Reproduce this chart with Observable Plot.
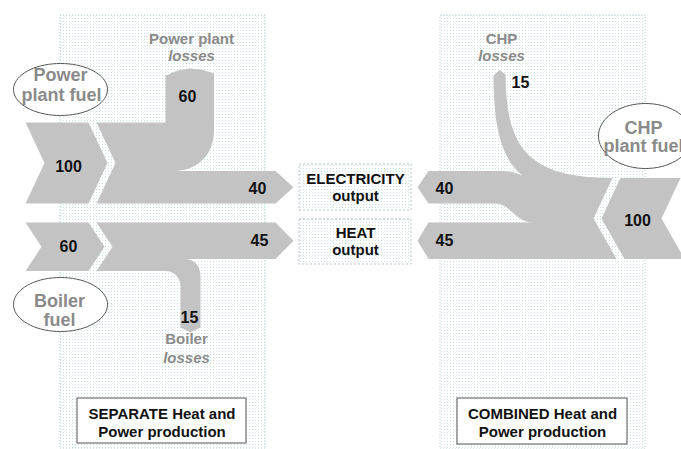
<!DOCTYPE html>
<html>
<head>
<meta charset="utf-8">
<script src="https://cdn.jsdelivr.net/npm/d3@7"></script>
<script src="https://cdn.jsdelivr.net/npm/@observablehq/plot@0.6"></script>
<style>body{margin:0;background:#fff}</style>
</head>
<body>
<div id="chart"></div>
<script>
// ---------- DATA ----------
const fuelLabels   = [["Power", "plant fuel"], ["Boiler", "fuel"], ["CHP", "plant fuel"]];
const lossLabels   = [["Power plant", "losses"], ["Boiler", "losses"], ["CHP", "losses"]];
const outputLabels = [["ELECTRICITY", "output"], ["HEAT", "output"]];
const panelTitles  = [["SEPARATE Heat and", "Power production"], ["COMBINED Heat and", "Power production"]];
const sepFuel   = [100, 60];   // power plant fuel, boiler fuel
const sepOutput = [40, 45];    // electricity, heat
const sepLoss   = [60, 15];    // power plant losses, boiler losses
const chpFuel   = [100];
const chpOutput = [40, 45];    // electricity, heat
const chpLoss   = [15];

// ---------- LAYOUT (pixel geometry, widths from values) ----------
const k = 0.81;               // px per unit of energy
const FONT = "Liberation Sans, Arial, sans-serif";
const shapeFill = "#c3c3c3";

function bez(a, b, c, d, n = 18) {
  const pts = [];
  for (let i = 1; i <= n; i++) {
    const t = i / n, u = 1 - t;
    pts.push([
      u*u*u*a[0] + 3*u*u*t*b[0] + 3*u*t*t*c[0] + t*t*t*d[0],
      u*u*u*a[1] + 3*u*u*t*b[1] + 3*u*t*t*c[1] + t*t*t*d[1]
    ]);
  }
  return pts;
}
function ellipse(cx, cy, rx, ry, n = 72) {
  return d3.range(n).map(i => [cx + rx * Math.cos(2*Math.PI*i/n), cy + ry * Math.sin(2*Math.PI*i/n)]);
}

// separate: power plant row
const yEB = 203;
const yFT = yEB - sepFuel[0] * k;
const yET = yEB - sepOutput[0] * k;
const yM1 = (yFT + yEB) / 2;
const pL = 165, pR = pL + sepLoss[0] * k, pTop = 75;
const chevA = [[25, yFT], [88, yFT], [107, yM1], [88, yEB], [25, yEB], [44, yM1]];
const bodyB = [
  [96, yFT], [pL, yFT], [pL, pTop],
  [pL + 12, pTop - 5], [pL + 24, pTop - 7], [pL + 36, pTop - 6], [pR, pTop - 2],
  [pR, 128], ...bez([pR, 128], [pR, 156], [196, yET], [172, yET]),
  [275, yET], [293, (yET + yEB) / 2], [275, yEB], [96, yEB], [115, yM1]
];

// separate: boiler row
const yHT = 222;
const yBB = yHT + sepFuel[1] * k;
const yHB = yHT + sepOutput[1] * k;
const yM2 = (yHT + yBB) / 2;
const bL = 180, bR = 200;
const chevC = [[25, yHT], [88, yHT], [104, yM2], [88, yBB], [25, yBB], [41, yM2]];
const bodyD = [
  [96, yHT], [275, yHT], [293, (yHT + yHB) / 2], [275, yHB], [184, yHB],
  ...bez([184, yHB], [194, yHB], [bR, yHB + 7], [bR, yHB + 18]),
  [bR, 327], [(bL + bR) / 2, 332], [bL, 327], [bL, 287],
  ...bez([bL, 287], [bL, 277], [174, yBB], [165, yBB]),
  [96, yBB], [112, yM2]
];

// combined (CHP)
const yRHB = yHB;
const yCT = yRHB - chpFuel[0] * k;
const yRET = yEB - chpOutput[0] * k;
const yRHT = yRHB - chpOutput[1] * k;
const yCM = (yCT + yRHB) / 2;
const cL = 493, cR = cL + chpLoss[0] * k;
const chevE = [[620, yCT], [680, yCT], [661, yCM], [684, yRHB], [624, yRHB], [601, yCM]];
const bodyF = [
  [417, (yRET + yEB) / 2], [428, yRET], [503, yRET],
  ...bez([503, yRET], [520, yRET], [530, 181], [545, 187]),
  ...bez([545, 187], [505, 175], [cL, 140], [cL, 75]),
  [(cL + cR) / 2, 69.5], [cR, 74],
  ...bez([cR, 74], [cR, 150], [530, yCT], [612, yCT]),
  [593, yCM], [616, yRHB],
  [428, yRHB], [417, (yRHT + yRHB) / 2], [428, yRHT], [532, yRHT],
  ...bez([532, yRHT], [515, yRHT], [510, yEB], [495, yEB]),
  [428, yEB]
];

const shapes = [["A", chevA], ["B", bodyB], ["C", chevC], ["D", bodyD], ["E", chevE], ["F", bodyF]]
  .flatMap(([id, pts]) => pts.map(([x, y]) => ({id, x, y})));

const ellipses = [["e1", ellipse(60, 89, 47, 26)], ["e2", ellipse(60, 304, 47, 27)], ["e3", ellipse(645, 135.5, 47, 32.5)]]
  .flatMap(([id, pts]) => pts.map(([x, y]) => ({id, x, y})));

const panels = [{x1: 60, x2: 265, y1: 15, y2: 449}, {x1: 440, x2: 645, y1: 15, y2: 449}];
const outBoxes = [{x1: 299, x2: 411, y1: 164, y2: 210}, {x1: 299, x2: 411, y1: 219, y2: 264}];
const titleBoxes = [{x1: 77, x2: 246, y1: 398, y2: 443}, {x1: 457, x2: 627, y1: 398, y2: 444}];

// text rows
const fuelText = [
  {x: 60, y: 74.5, t: fuelLabels[0][0]}, {x: 61, y: 94.5, t: fuelLabels[0][1]},
  {x: 59, y: 301, t: fuelLabels[1][0]}, {x: 59, y: 319.5, t: fuelLabels[1][1]},
  {x: 643, y: 127.5, t: fuelLabels[2][0]}, {x: 643, y: 146, t: fuelLabels[2][1]}
];
const lossTop = [
  {x: 191, y: 38.5, t: lossLabels[0][0]}, {x: 186, y: 339, t: lossLabels[1][0]}, {x: 501, y: 38.5, t: lossLabels[2][0]}
];
const lossItal = [
  {x: 191, y: 56, t: lossLabels[0][1]}, {x: 186, y: 357.5, t: lossLabels[1][1]}, {x: 501, y: 56, t: lossLabels[2][1]}
];
const numbers = [
  {x: 68, y: 166.5, t: String(sepFuel[0])},
  {x: 187, y: 96.5, t: String(sepLoss[0])},
  {x: 257, y: 188, t: String(sepOutput[0])},
  {x: 68, y: 246.5, t: String(sepFuel[1])},
  {x: 259, y: 240.5, t: String(sepOutput[1])},
  {x: 189, y: 317, t: String(sepLoss[1])},
  {x: 520, y: 82, t: String(chpLoss[0])},
  {x: 444, y: 188, t: String(chpOutput[0])},
  {x: 444, y: 240.5, t: String(chpOutput[1])},
  {x: 637, y: 220, t: String(chpFuel[0])}
];
const outText = [
  {x: 355, y: 178.5, t: outputLabels[0][0]}, {x: 355, y: 196, t: outputLabels[0][1]},
  {x: 355, y: 232.5, t: outputLabels[1][0]}, {x: 355, y: 250, t: outputLabels[1][1]}
];
const titleText = [
  {x: 161.5, y: 413.5, t: panelTitles[0][0]}, {x: 161.5, y: 432, t: panelTitles[0][1]},
  {x: 542, y: 413.5, t: panelTitles[1][0]}, {x: 542, y: 432, t: panelTitles[1][1]}
];

const T = (rows, o) => Plot.text(rows, {x: "x", y: "y", text: "t", fontFamily: FONT, ...o});

const svg = Plot.plot({
  width: 681, height: 449, margin: 0,
  x: {domain: [0, 681], range: [0, 681], axis: null},
  y: {domain: [0, 449], range: [0, 449], axis: null},
  style: {fontFamily: FONT, background: "#fff", overflow: "hidden"},
  marks: [
    Plot.rect(panels, {x1: "x1", x2: "x2", y1: "y1", y2: "y2", fill: "url(#dots)", stroke: "#b5d0d0", strokeDasharray: "1,2"}),
    Plot.rect(outBoxes, {x1: "x1", x2: "x2", y1: "y1", y2: "y2", fill: "url(#dots)", stroke: "#b5c9c9", strokeDasharray: "2,2"}),
    Plot.line(shapes, {x: "x", y: "y", z: "id", fill: shapeFill, stroke: "none", curve: "linear"}),
    Plot.line(ellipses, {x: "x", y: "y", z: "id", fill: "#fff", stroke: "#555", strokeWidth: 1, curve: "linear-closed"}),
    Plot.rect(titleBoxes, {x1: "x1", x2: "x2", y1: "y1", y2: "y2", fill: "#fff", stroke: "#555", strokeWidth: 1}),
    T(fuelText, {fontSize: 18, fontWeight: "bold", fill: "#8a8a8a"}),
    T(lossTop, {fontSize: 15, fontWeight: "bold", fill: "#8a8a8a"}),
    T(lossItal, {fontSize: 15, fontWeight: "bold", fontStyle: "italic", fill: "#8a8a8a"}),
    T(numbers, {fontSize: 16, fontWeight: "bold", fill: "#111"}),
    T(outText, {fontSize: 15, fontWeight: "bold", fill: "#111"}),
    T(titleText, {fontSize: 15, fontWeight: "bold", fill: "#111"})
  ]
});

// dotted fill pattern
const ns = "http://www.w3.org/2000/svg";
const defs = document.createElementNS(ns, "defs");
const pat = document.createElementNS(ns, "pattern");
pat.setAttribute("id", "dots");
pat.setAttribute("width", 3);
pat.setAttribute("height", 3);
pat.setAttribute("patternUnits", "userSpaceOnUse");
const bg = document.createElementNS(ns, "rect");
bg.setAttribute("width", 3); bg.setAttribute("height", 3); bg.setAttribute("fill", "#ffffff");
const dot = document.createElementNS(ns, "rect");
dot.setAttribute("width", 1); dot.setAttribute("height", 1); dot.setAttribute("fill", "#c6e2e2");
pat.appendChild(bg); pat.appendChild(dot);
defs.appendChild(pat);
svg.insertBefore(defs, svg.firstChild);

document.getElementById("chart").appendChild(svg);
</script>
</body>
</html>
